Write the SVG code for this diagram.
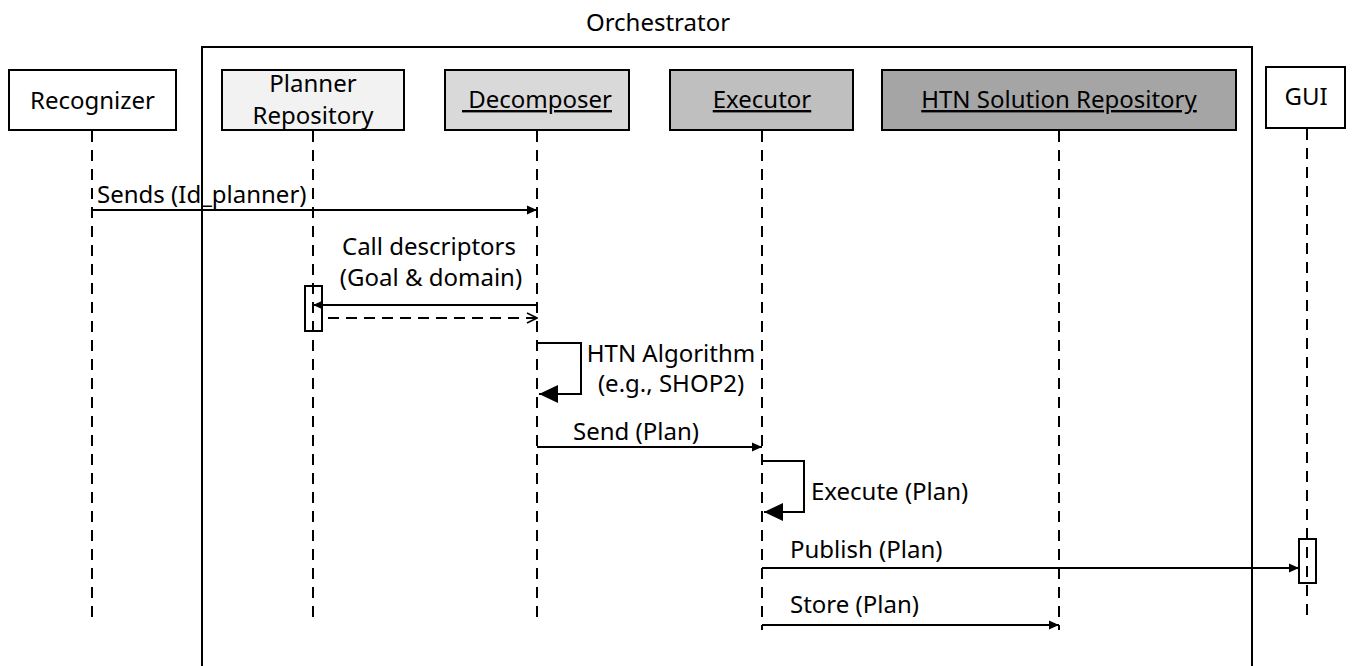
<svg xmlns="http://www.w3.org/2000/svg" width="1353" height="666" viewBox="0 0 1353 666">
  <style>
    text { font-family: "Noto Sans", "Open Sans", "Liberation Sans", sans-serif; font-size: 24px; fill: #000; }
    .mid { text-anchor: middle; }
    .ul { text-decoration: underline; }
    .box { stroke: #000; stroke-width: 2; }
    .life { stroke: #000; stroke-width: 2; stroke-dasharray: 11 8; fill: none; }
    .msg { stroke: #000; stroke-width: 2; fill: none; }
    .ret { stroke: #000; stroke-width: 2; stroke-dasharray: 11 7; fill: none; }
    .act { fill: none; stroke: #000; stroke-width: 2; }
  </style>
  <defs>
    <marker id="head" viewBox="0 0 10 10" refX="10" refY="5" markerWidth="10" markerHeight="10" markerUnits="userSpaceOnUse" orient="auto">
      <path d="M0,0.5 L10,5 L0,9.5 z" fill="#000"/>
    </marker>
    <marker id="head-lg" viewBox="0 0 19 18" refX="19" refY="9" markerWidth="19" markerHeight="18" markerUnits="userSpaceOnUse" orient="auto">
      <path d="M0,0 L19,9 L0,18 z" fill="#000"/>
    </marker>
    <marker id="head-open" viewBox="0 0 12 12" refX="11" refY="6" markerWidth="12" markerHeight="12" markerUnits="userSpaceOnUse" orient="auto">
      <path d="M1,1 L11,6 L1,11" fill="none" stroke="#000" stroke-width="1.6"/>
    </marker>
  </defs>

  <rect width="1353" height="666" fill="#fff"/>

  <!-- Orchestrator frame (open at the bottom) -->
  <g id="orchestrator">
    <path d="M202,670 V47 H1252 V670" fill="none" stroke="#000" stroke-width="2"/>
    <text class="mid" x="658" y="31">Orchestrator</text>
  </g>

  <!-- Participants -->
  <g id="recognizer">
    <rect class="box" x="9" y="70" width="167" height="60" fill="#fff"/>
    <text class="mid" x="92.5" y="109">Recognizer</text>
    <line class="life" x1="92" y1="131" x2="92" y2="618"/>
  </g>
  <g id="planner-repository">
    <rect class="box" x="222" y="70" width="182" height="60" fill="#f2f2f2"/>
    <text class="mid" x="313" y="92">Planner</text>
    <text class="mid" x="313" y="124">Repository</text>
    <line class="life" x1="313" y1="131" x2="313" y2="618"/>
  </g>
  <g id="decomposer">
    <rect class="box" x="445" y="70" width="184" height="60" fill="#d9d9d9"/>
    <text class="mid ul" x="537" y="108" xml:space="preserve"> Decomposer</text>
    <line class="life" x1="537" y1="131" x2="537" y2="618"/>
  </g>
  <g id="executor">
    <rect class="box" x="670" y="70" width="183" height="60" fill="#bfbfbf"/>
    <text class="mid ul" x="762" y="108">Executor</text>
    <line class="life" x1="762" y1="131" x2="762" y2="630"/>
  </g>
  <g id="htn-solution-repository">
    <rect class="box" x="882" y="70" width="354" height="60" fill="#a5a5a5"/>
    <text class="mid ul" x="1059" y="108">HTN Solution Repository</text>
    <line class="life" x1="1059" y1="131" x2="1059" y2="630"/>
  </g>
  <g id="gui">
    <rect class="box" x="1266" y="67" width="79" height="61" fill="#fff"/>
    <text class="mid" x="1306" y="105">GUI</text>
    <line class="life" x1="1307" y1="129" x2="1307" y2="615"/>
  </g>

  <!-- Activation bars -->
  <g id="activations">
    <rect class="act" x="305" y="286" width="17" height="45"/>
    <rect class="act" x="1299" y="539" width="17" height="44"/>
  </g>

  <!-- Messages -->
  <g id="connectors">
    <line class="msg" x1="92" y1="210" x2="537" y2="210" marker-end="url(#head)"/>
    <line class="msg" x1="537" y1="305" x2="313" y2="305" marker-end="url(#head)"/>
    <line class="ret" x1="328" y1="318" x2="537" y2="318" marker-end="url(#head-open)"/>
    <path class="msg" d="M537,343 H581 V394 H539" marker-end="url(#head-lg)"/>
    <line class="msg" x1="537" y1="447" x2="762" y2="447" marker-end="url(#head)"/>
    <path class="msg" d="M762,461 H804 V512 H764" marker-end="url(#head-lg)"/>
    <line class="msg" x1="762" y1="568" x2="1299" y2="568" marker-end="url(#head)"/>
    <line class="msg" x1="762" y1="625" x2="1059" y2="625" marker-end="url(#head)"/>
  </g>

  <!-- Message labels -->
  <g id="labels">
    <text x="97" y="203">Sends (Id_planner)</text>
    <text class="mid" x="429" y="255">Call descriptors</text>
    <text class="mid" x="431" y="286">(Goal &amp; domain)</text>
    <text class="mid" x="671" y="362">HTN Algorithm</text>
    <text class="mid" x="671" y="392">(e.g., SHOP2)</text>
    <text class="mid" x="636" y="440">Send (Plan)</text>
    <text x="811" y="500">Execute (Plan)</text>
    <text x="790" y="558">Publish (Plan)</text>
    <text x="790" y="613">Store (Plan)</text>
  </g>
</svg>
